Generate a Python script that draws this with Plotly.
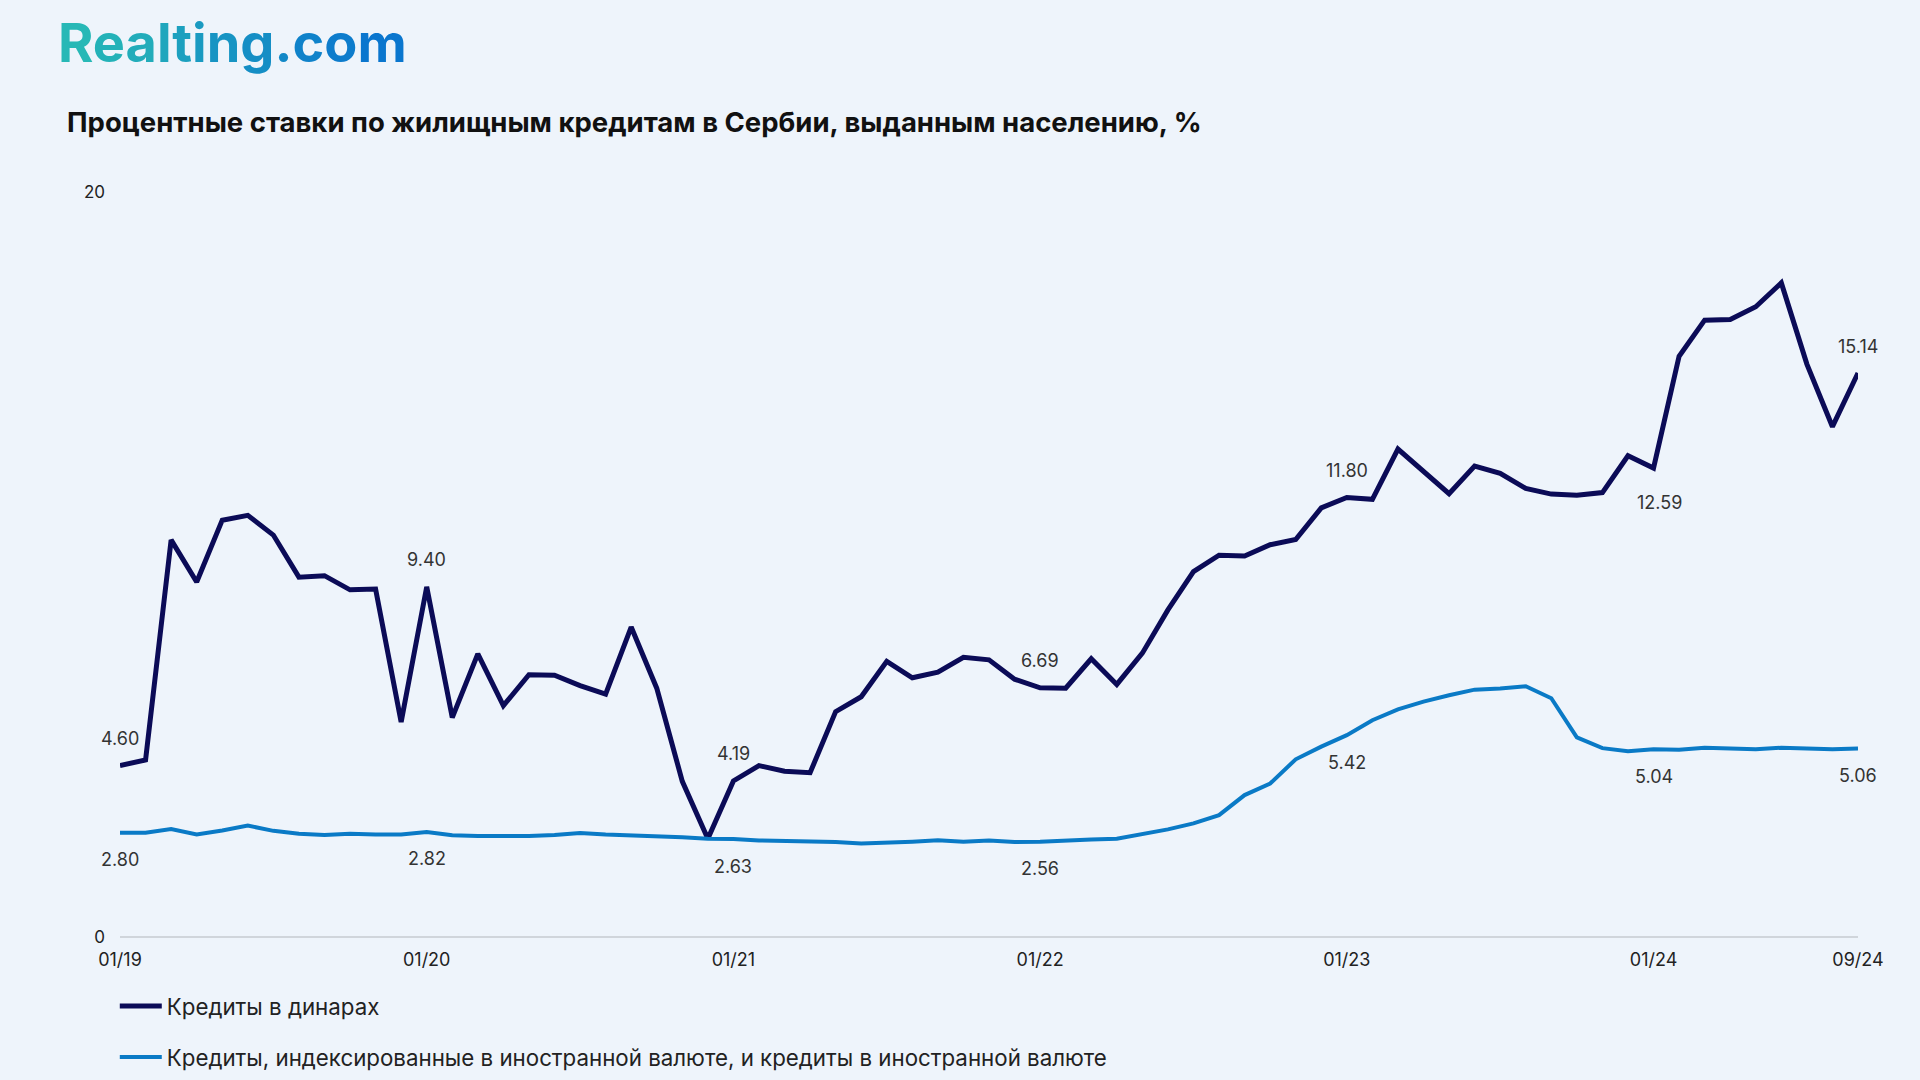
import plotly.graph_objects as go
import pandas as pd

months = [d.strftime("%m/%y") for d in pd.date_range("2019-01-01", "2024-09-01", freq="MS")]

dinar = [4.60, 4.75, 10.66, 9.53, 11.19, 11.32, 10.79, 9.66, 9.70, 9.32, 9.34, 5.77,
         9.40, 5.89, 7.60, 6.21, 7.04, 7.03, 6.75, 6.52, 8.32, 6.68, 4.18, 2.64,
         4.19, 4.60, 4.45, 4.41, 6.05, 6.45, 7.40, 6.96, 7.11, 7.51, 7.44, 6.92,
         6.69, 6.68, 7.47, 6.78, 7.62, 8.78, 9.81, 10.25, 10.23, 10.53, 10.67, 11.52,
         11.80, 11.75, 13.10, 12.48, 11.90, 12.64, 12.45, 12.04, 11.89, 11.86, 11.93, 12.92,
         12.59, 15.59, 16.56, 16.58, 16.92, 17.56, 15.38, 13.70, 15.14]

foreign = [2.80, 2.80, 2.90, 2.75, 2.86, 2.99, 2.85, 2.77, 2.74, 2.77, 2.75, 2.75,
           2.82, 2.73, 2.71, 2.71, 2.71, 2.74, 2.79, 2.75, 2.73, 2.71, 2.68, 2.64,
           2.63, 2.59, 2.58, 2.58, 2.55, 2.51, 2.53, 2.56, 2.60, 2.56, 2.59, 2.55,
           2.56, 2.60, 2.62, 2.64, 2.77, 2.89, 3.05, 3.27, 3.81, 4.12, 4.77, 5.11,
           5.42, 5.82, 6.11, 6.32, 6.49, 6.64, 6.67, 6.73, 6.41, 5.36, 5.07, 4.99,
           5.04, 5.03, 5.08, 5.07, 5.04, 5.08, 5.05, 5.04, 5.06]

tick_labels = ["01/19", "01/20", "01/21", "01/22", "01/23", "01/24", "09/24"]
label_months = ["01/19", "01/20", "01/21", "01/22", "01/23", "01/24", "09/24"]
dinar_label_below = [False, False, False, False, False, True, False]

name_dinar = "Кредиты в динарах"
name_foreign = "Кредиты, индексированные в иностранной валюте, и кредиты в иностранной валюте"
title_text = "Процентные ставки по жилищным кредитам в Сербии, выданным населению, %"
logo_text = "Realting.com"

NAVY = "#0b0b57"
BLUE = "#0a7ac6"
BG = "#eef4fb"
FONT = "Inter"

fig = go.Figure()
fig.add_trace(go.Scatter(x=months, y=dinar, mode="lines", name=name_dinar,
                         line=dict(color=NAVY, width=5), legendgroup="a"))
fig.add_trace(go.Scatter(x=months, y=foreign, mode="lines", name=name_foreign,
                         line=dict(color=BLUE, width=4), legendgroup="b"))

annotations = []
for m, below in zip(label_months, dinar_label_below):
    i = months.index(m)
    annotations.append(dict(x=m, y=dinar[i], text=f"{dinar[i]:.2f}", showarrow=False,
                            yshift=-34 if below else 27, xshift=6 if below else 0,
                            font=dict(family=FONT, size=18, color="#333333")))
for m in label_months:
    i = months.index(m)
    annotations.append(dict(x=m, y=foreign[i], text=f"{foreign[i]:.2f}", showarrow=False,
                            yshift=-27, font=dict(family=FONT, size=18, color="#333333")))

# gradient logo
c0 = (0x27, 0xb8, 0xb6)
c1 = (0x0a, 0x76, 0xce)
spans = []
n = len(logo_text)
for k, ch in enumerate(logo_text):
    t = k / (n - 1)
    col = tuple(round(c0[j] + (c1[j] - c0[j]) * t) for j in range(3))
    spans.append(f'<span style="color:#{col[0]:02x}{col[1]:02x}{col[2]:02x}">{ch}</span>')
annotations.append(dict(xref="paper", yref="paper", x=0, y=1, xanchor="left", yanchor="middle",
                        text="<b>" + "".join(spans) + "</b>", showarrow=False,
                        font=dict(family=FONT, size=54), xshift=-64, yshift=192 - 42))

fig.update_layout(
    width=1920, height=1080,
    paper_bgcolor=BG, plot_bgcolor=BG,
    margin=dict(l=120, r=62, t=192, b=143),
    font=dict(family=FONT, color="#222222"),
    title=dict(text="<b>" + title_text + "</b>", x=67 / 1920, y=1 - 122 / 1080,
               xanchor="left", yanchor="middle", xref="container", yref="container",
               font=dict(family=FONT, size=27.5, color="#111111")),
    showlegend=True,
    legend=dict(orientation="v", x=-0.003, xanchor="left", xref="paper",
                y=1 - 985 / 1080, yref="container", yanchor="top",
                font=dict(family=FONT, size=22.3, color="#222222"),
                bgcolor="rgba(0,0,0,0)", tracegroupgap=19, itemwidth=42,
                traceorder="grouped"),
    annotations=annotations,
    xaxis=dict(type="category", range=[0, len(months) - 1], tickmode="array",
               tickvals=tick_labels, ticktext=tick_labels, showgrid=False,
               showline=False, zeroline=False, ticks="", ticklabelstandoff=10,
               tickfont=dict(family=FONT, size=18, color="#222222")),
    yaxis=dict(range=[0, 20], tickvals=[0, 20], showgrid=True, gridcolor="#d8dde3",
               gridwidth=1.5, zeroline=True, zerolinecolor="#d0d5db", zerolinewidth=1.5,
               showline=False, ticks="", ticklabelstandoff=14,
               tickfont=dict(family=FONT, size=17, color="#222222")),
    hovermode="x unified",
)

fig.write_html("out.html", config={"displayModeBar": False},
               post_script="document.body.style.margin='0';document.body.style.overflow='hidden';")
